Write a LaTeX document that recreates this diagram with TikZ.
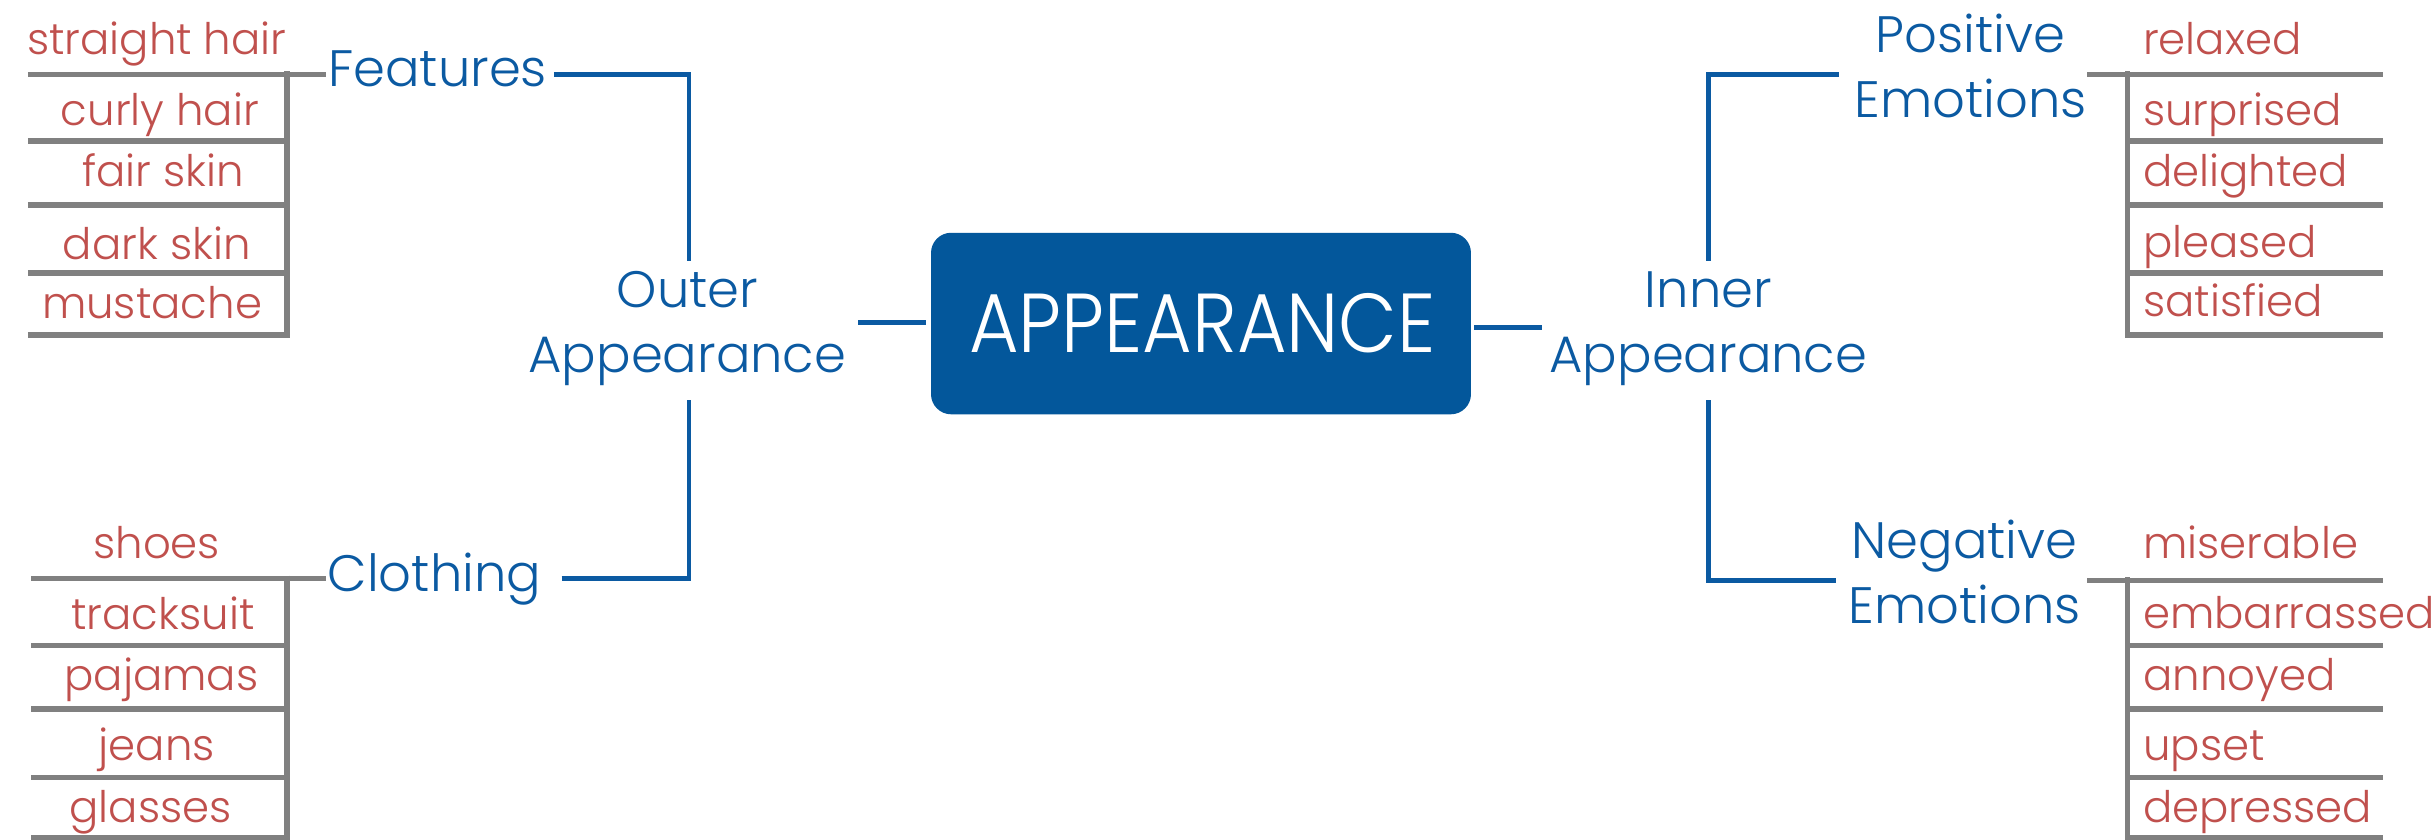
\documentclass[tikz,border=0pt]{standalone}
\usepackage{fontspec}
\setmainfont{Poppins}[UprightFont=* Light]
\definecolor{tblue}{HTML}{0B5AA2}
\definecolor{boxblue}{HTML}{03579B}
\definecolor{tred}{HTML}{C0504D}
\definecolor{tgray}{HTML}{808080}
\begin{document}
\begin{tikzpicture}[x=1pt,y=-1pt,
  blueline/.style={draw=tblue,line width=3pt},
  grayline/.style={draw=tgray,line width=3.5pt},
  bluetxt/.style={text=tblue,font=\fontsize{33}{42}\selectfont,inner sep=0pt,align=center,anchor=base},
  redL/.style={text=tred,font=\fontsize{28}{34}\selectfont,inner sep=0pt,anchor=base},
  redR/.style={text=tred,font=\fontsize{28}{34}\selectfont,inner sep=0pt,anchor=base west},
]
\useasboundingbox (0,0) rectangle (1568,541);
\fill[white] (0,0) rectangle (1568,541);

% central node
\node[fill=boxblue, rounded corners=13pt, minimum width=348pt, minimum height=117pt, inner sep=0pt] (root) at (774,208.5) {};
\node[text=white, inner sep=0pt, anchor=base, font=\fontsize{49}{49}\selectfont] (roottxt) at (775,227) {\scalebox{1}[1.1]{APPEARANCE}};

% second level
\node[bluetxt] (outer) at (443,240) {Outer\\Appearance};
\node[bluetxt] (inner) at (1101,240) {Inner\\Appearance};

\coordinate (rl) at (553,208); \coordinate (rl2) at (597,208);
\coordinate (rr) at (950,211); \coordinate (rr2) at (994,211);
\draw[blueline] (rl) -- (rl2);
\draw[blueline] (rr) -- (rr2);

% third level
\node[bluetxt] (feat) at (282,56) {Features};
\node[bluetxt] (cloth) at (280,381) {Clothing};
\node[bluetxt] (pos) at (1270,76) {Positive\\Emotions};
\node[bluetxt] (neg) at (1266,402) {Negative\\Emotions};

\coordinate (oT) at (444,168); \coordinate (oB) at (444,258);
\coordinate (iT) at (1101,168); \coordinate (iB) at (1101,258);
\coordinate (featE) at (357,48); \coordinate (clothE) at (362,373);
\coordinate (posW) at (1185,48); \coordinate (negW) at (1183,374);
\draw[blueline] (featE) -| (oT);
\draw[blueline] (clothE) -| (oB);
\draw[blueline] (posW) -| (iT);
\draw[blueline] (negW) -| (iB);

% Features leaves
\node[redL] (f1) at (101,35) {straight hair};
\node[redL] (f2) at (103,81) {curly hair};
\node[redL] (f3) at (105,120) {fair skin};
\node[redL] (f4) at (101,167) {dark skin};
\node[redL] (f5) at (98,205) {mustache};
\coordinate (fa) at (18,48); \coordinate (fb) at (210,48);
\draw[grayline] (fa) -- (fb);
\coordinate (fv1) at (185,46); \coordinate (fv2) at (185,218);
\draw[grayline] (fv1) -- (fv2);
\foreach \y in {91,132,176,216} \draw[grayline] (18,\y) -- (185,\y);

% Clothing leaves
\node[redL] (c1) at (101,360) {shoes};
\node[redL] (c2) at (105,406) {tracksuit};
\node[redL] (c3) at (104,445) {pajamas};
\node[redL] (c4) at (101,490) {jeans};
\node[redL] (c5) at (97,530) {glasses};
\coordinate (ca) at (20,373); \coordinate (cb) at (210,373);
\draw[grayline] (ca) -- (cb);
\coordinate (cv1) at (185,371); \coordinate (cv2) at (185,545);
\draw[grayline] (cv1) -- (cv2);
\foreach \y in {416,457,501,540} \draw[grayline] (20,\y) -- (185,\y);

% Positive leaves
\node[redR] (p1) at (1381,35) {relaxed};
\node[redR] (p2) at (1381,81) {surprised};
\node[redR] (p3) at (1381,120) {delighted};
\node[redR] (p4) at (1381,166) {pleased};
\node[redR] (p5) at (1381,204) {satisfied};
\coordinate (pa) at (1345,48); \coordinate (pb) at (1536,48);
\draw[grayline] (pa) -- (pb);
\coordinate (pv1) at (1371,46); \coordinate (pv2) at (1371,218);
\draw[grayline] (pv1) -- (pv2);
\foreach \y in {91,132,176,216} \draw[grayline] (1371,\y) -- (1536,\y);

% Negative leaves
\node[redR] (n1) at (1381,360) {miserable};
\node[redR] (n2) at (1381,405) {embarrassed};
\node[redR] (n3) at (1381,445) {annoyed};
\node[redR] (n4) at (1381,490) {upset};
\node[redR] (n5) at (1381,530) {depressed};
\coordinate (na) at (1345,374); \coordinate (nb) at (1536,374);
\draw[grayline] (na) -- (nb);
\coordinate (nv1) at (1371,372); \coordinate (nv2) at (1371,545);
\draw[grayline] (nv1) -- (nv2);
\foreach \y in {416,457,501,540} \draw[grayline] (1371,\y) -- (1536,\y);
\end{tikzpicture}
\end{document}
